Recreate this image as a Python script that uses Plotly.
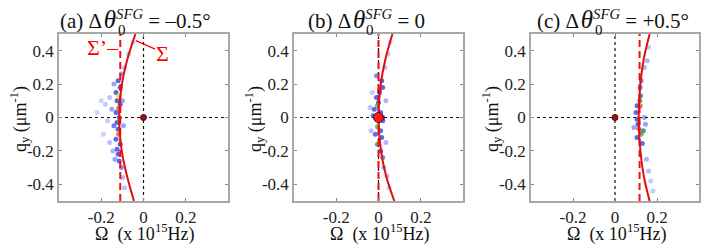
import plotly.graph_objects as go

W, H = 709, 249
FONT = "Liberation Serif"

# ---------------- data ----------------
PANEL_LABELS = ["(a)", "(b)", "(c)"]
TITLE_VALUES = ["= –0.5°", "= 0", "= +0.5°"]
X_RANGE = [-0.4, 0.4]
Y_RANGE = [-0.5, 0.5]
X_TICKS = [-0.2, 0, 0.2]
X_TICK_TEXT = ["-0.2", "0", "0.2"]
Y_TICKS = [-0.4, -0.2, 0, 0.2, 0.4]
Y_TICK_TEXT = ["-0.4", "-0.2", "0", "0.2", "0.4"]

# Sigma curve samples: qy -> Omega
SIGMA_QY = [-0.5, -0.35, -0.2, 0.0, 0.2, 0.35, 0.5]
SIGMA_OM = [
    [-0.045, -0.078, -0.103, -0.115, -0.102, -0.076, -0.038],
    [0.075, 0.036, 0.012, 0.0, 0.011, 0.033, 0.066],
    [0.165, 0.137, 0.121, 0.113, 0.121, 0.137, 0.165],
]
# Sigma' (dashed) positions
SIGMA_PRIME = [-0.11, 0.0, 0.117]

# Spectral intensity speckles (Omega, qy, relative intensity)
SPECKLES_A = [
    (-0.12, 0.22, 0.5), (-0.11, 0.18, 0.6), (-0.13, 0.15, 0.55), (-0.118, 0.13, 0.85),
    (-0.125, 0.10, 0.6), (-0.11, 0.08, 0.5), (-0.118, 0.055, 0.95), (-0.13, 0.03, 0.5),
    (-0.115, 0.0, 0.6), (-0.125, -0.03, 0.55), (-0.14, -0.05, 0.4), (-0.12, -0.07, 0.6),
    (-0.118, -0.10, 0.95), (-0.13, -0.13, 0.55), (-0.11, -0.16, 0.5), (-0.125, -0.19, 0.5),
    (-0.12, -0.22, 0.5), (-0.115, -0.26, 0.45), (-0.105, -0.30, 0.35), (-0.10, -0.36, 0.25),
    (-0.09, -0.42, 0.2), (-0.16, 0.12, 0.2), (-0.18, 0.08, 0.15), (-0.20, 0.10, 0.12),
    (-0.22, 0.03, 0.1), (-0.17, -0.02, 0.15), (-0.19, -0.10, 0.12), (-0.16, -0.15, 0.2),
    (-0.15, 0.05, 0.3), (-0.145, -0.20, 0.25), (-0.09, 0.30, 0.2), (-0.07, 0.38, 0.15),
    (-0.05, 0.45, 0.12), (-0.10, 0.10, 0.3), (-0.095, -0.05, 0.3), (-0.14, 0.20, 0.3),
    (-0.135, -0.25, 0.3), (-0.105, 0.26, 0.3),
]
SPECKLES_B = [
    (-0.01, 0.25, 0.35), (0.015, 0.22, 0.55), (0.02, 0.18, 0.5), (0.005, 0.15, 0.5),
    (-0.01, 0.12, 0.45), (0.0, 0.09, 0.55), (-0.005, 0.072, 0.75), (-0.02, 0.05, 0.5),
    (0.01, 0.03, 0.55), (-0.025, 0.01, 0.45), (0.02, -0.02, 0.5), (-0.005, -0.056, 0.75),
    (0.01, -0.08, 0.5), (-0.015, -0.10, 0.45), (0.015, -0.12, 0.5), (-0.005, -0.16, 0.72),
    (0.01, -0.20, 0.45), (0.02, -0.24, 0.35), (0.025, -0.30, 0.25), (0.04, -0.35, 0.2),
    (0.05, -0.42, 0.15), (0.03, 0.30, 0.2), (0.045, 0.38, 0.15), (0.055, 0.45, 0.12),
    (-0.04, 0.06, 0.2), (-0.035, -0.08, 0.2), (0.035, 0.10, 0.25), (0.035, -0.15, 0.25),
    (-0.03, 0.15, 0.15), (0.02, 0.0, 0.6), (0.005, 0.165, 0.95),
]
SPECKLES_C = [
    (0.122, 0.13, 0.7), (0.118, 0.10, 0.72), (0.12, 0.07, 0.95), (0.105, 0.07, 0.5),
    (0.10, 0.03, 0.45), (0.105, -0.01, 0.5), (0.11, -0.04, 0.6), (0.113, -0.068, 0.95),
    (0.125, -0.10, 0.75), (0.135, -0.08, 0.7), (0.105, -0.12, 0.5), (0.13, -0.155, 0.5),
    (0.12, 0.18, 0.35), (0.125, 0.22, 0.35), (0.14, 0.30, 0.25), (0.154, 0.34, 0.25),
    (0.16, 0.42, 0.15), (0.15, -0.25, 0.25), (0.16, -0.32, 0.22), (0.18, -0.44, 0.15),
    (0.17, -0.38, 0.15), (0.14, 0.0, 0.3), (0.145, -0.04, 0.3), (0.09, -0.06, 0.3),
]
SPECKLES = [SPECKLES_A, SPECKLES_B, SPECKLES_C]
# zero-frequency peak (Omega, qy, size)
CENTER_PEAK = [(0.0, 0.0, 6), (0.0, 0.0, 10), (0.0, 0.0, 6)]
CENTER_COLOR = ["#9a1010", "#ff1a1a", "#9a1010"]

# ---------------- layout geometry (window pixels) ----------------
X_DOMAINS_PX = [(59, 228), (294, 463), (531, 699)]
Y_TOP_PX, Y_BOT_PX = 34, 201
TITLE_LEFT_PX = [60, 308, 537]
SUB_OFFSET_PX = 58  # where the stacked subscript "0" sits, from title start


def px_x(p):
    return p / W


def px_y(p):
    return 1 - p / H


y_dom = [px_y(Y_BOT_PX), px_y(Y_TOP_PX)]

CSCALE = [[0.0, "#e0e5ff"], [0.25, "#98a4ff"], [0.45, "#3447e8"],
          [0.65, "#2440d0"], [0.75, "#3cb04a"], [0.85, "#e6e020"], [1.0, "#ff1010"]]

fig = go.Figure()
annotations = []
shapes = []


def text_ann(text, xpx, ypx, size, xanchor="left", yanchor="middle", color="#111111", angle=0):
    pad = 2 if xanchor == "left" else (-2 if xanchor == "right" else 0)
    annotations.append(dict(text=text, x=px_x(xpx - pad), y=px_y(ypx), xref="paper", yref="paper",
                            showarrow=False, xanchor=xanchor, yanchor=yanchor, textangle=angle,
                            font=dict(family=FONT, size=size, color=color)))


for i in range(3):
    xa = "x" if i == 0 else f"x{i+1}"
    ya = "y" if i == 0 else f"y{i+1}"
    xdom = [px_x(X_DOMAINS_PX[i][0]), px_x(X_DOMAINS_PX[i][1])]
    axis_common = dict(
        showgrid=False, zeroline=False, showline=True, linecolor="#a8a8a8", linewidth=1.5,
        mirror="ticks", ticks="inside", ticklen=3, tickcolor="#888888",
        tickfont=dict(family=FONT, size=17, color="#222222"),
    )
    fig.update_layout(**{
        ("xaxis" if i == 0 else f"xaxis{i+1}"): dict(
            domain=xdom, range=X_RANGE, anchor=ya, tickvals=X_TICKS, ticktext=X_TICK_TEXT,
            fixedrange=True, **axis_common),
        ("yaxis" if i == 0 else f"yaxis{i+1}"): dict(
            domain=y_dom, range=Y_RANGE, anchor=xa, tickvals=Y_TICKS, ticktext=Y_TICK_TEXT,
            fixedrange=True, **axis_common),
    })

    sp = SPECKLES[i]
    fig.add_trace(go.Scatter(
        x=[s[0] for s in sp], y=[s[1] for s in sp], mode="markers", xaxis=xa, yaxis=ya,
        marker=dict(size=5, color=[s[2] for s in sp], colorscale=CSCALE, cmin=0, cmax=1,
                    opacity=0.8, line=dict(width=0)),
        showlegend=False, hoverinfo="skip"))

    # dotted crosshair through origin
    fig.add_trace(go.Scatter(x=X_RANGE, y=[0, 0], mode="lines", xaxis=xa, yaxis=ya,
                             line=dict(color="#111111", width=1.2, dash="dot"),
                             showlegend=False, hoverinfo="skip"))
    fig.add_trace(go.Scatter(x=[0, 0], y=Y_RANGE, mode="lines", xaxis=xa, yaxis=ya,
                             line=dict(color="#111111", width=1.2, dash="dot"),
                             showlegend=False, hoverinfo="skip"))

    # Sigma' dashed
    fig.add_trace(go.Scatter(x=[SIGMA_PRIME[i]] * 2, y=Y_RANGE, mode="lines", xaxis=xa, yaxis=ya,
                             line=dict(color="#ee1111", width=2, dash="7px,4px"),
                             showlegend=False, hoverinfo="skip"))
    # Sigma curve
    fig.add_trace(go.Scatter(x=SIGMA_OM[i], y=SIGMA_QY, mode="lines", xaxis=xa, yaxis=ya,
                             line=dict(color="#e01010", width=2, shape="spline"),
                             showlegend=False, hoverinfo="skip"))
    # center peak
    cp = CENTER_PEAK[i]
    fig.add_trace(go.Scatter(x=[cp[0]], y=[cp[1]], mode="markers", xaxis=xa, yaxis=ya,
                             marker=dict(size=cp[2], color=CENTER_COLOR[i],
                                         line=dict(color="#551010", width=1)),
                             showlegend=False, hoverinfo="skip"))

    # title; subscript "0" placed separately so it stacks under the superscript
    title = (f"{PANEL_LABELS[i]} Δ\u200a<span style='font-size:25px'><i>θ</i></span>"
             f"<sup><i>SFG</i></sup> {TITLE_VALUES[i]}")
    text_ann(title, TITLE_LEFT_PX[i], 19, 21)
    text_ann("0", TITLE_LEFT_PX[i] + SUB_OFFSET_PX, 30, 15)

    cx_px = (X_DOMAINS_PX[i][0] + X_DOMAINS_PX[i][1]) / 2
    text_ann("q<sub>y</sub> (μm<sup>-1</sup>)", X_DOMAINS_PX[i][0] - 39, 119, 18,
             xanchor="center", angle=-90)
    text_ann("Ω  (x 10<sup>15</sup>Hz)", cx_px + 1, 247, 18, xanchor="center", yanchor="bottom")

# Sigma labels in panel (a)
annotations.append(dict(text="Σ’–", x=-0.108, y=0.42, xref="x", yref="y", showarrow=False,
                        xanchor="right", yanchor="middle",
                        font=dict(family=FONT, size=22, color="#ff0000")))
annotations.append(dict(text="Σ", x=0.05, y=0.385, xref="x", yref="y", showarrow=False,
                        xanchor="left", yanchor="middle",
                        font=dict(family=FONT, size=22, color="#ff0000")))
shapes.append(dict(type="line", x0=-0.036, y0=0.46, x1=0.055, y1=0.41, xref="x", yref="y",
                   line=dict(color="#ff0000", width=1.3)))

fig.update_layout(width=W, height=H, margin=dict(l=0, r=0, t=0, b=0),
                  paper_bgcolor="white", plot_bgcolor="white",
                  annotations=annotations, shapes=shapes)
fig.write_html("out.html", config={"displayModeBar": False},
               post_script="document.body.style.margin='0px';document.body.style.overflow='hidden';")
